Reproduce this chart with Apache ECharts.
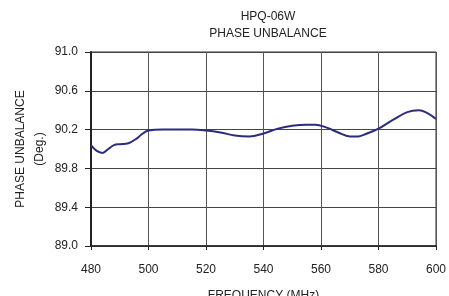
<!DOCTYPE html>
<html lang="en">
<head>
    <meta charset="UTF-8">
    <title>HPQ-06W Phase Unbalance</title>
    <script src="https://cdn.jsdelivr.net/npm/echarts/dist/echarts.min.js"></script>
    <style>
        html, body { margin: 0; height: 100%; background: #fff; }
        #main { width: 449px; height: 296px; }
    </style>
</head>
<body>
    <div id="main"></div>
    <script>
        // values
        var freqs = [480, 482, 484, 486, 488, 490, 493, 496, 498, 500, 505, 510, 515, 520, 525, 530, 535,
                     540, 545, 550, 555, 558, 562, 566, 570, 573, 576, 580, 585, 590, 594, 597, 600];
        var phase = [90.04, 89.98, 89.96, 90.00, 90.04, 90.05, 90.06, 90.11, 90.16, 90.19, 90.20, 90.20, 90.20,
                     90.19, 90.17, 90.14, 90.13, 90.16, 90.21, 90.24, 90.25, 90.25, 90.22, 90.17, 90.13, 90.13,
                     90.16, 90.21, 90.30, 90.38, 90.40, 90.37, 90.31];
        var titleLines = ['HPQ-06W', 'PHASE UNBALANCE'];

        var chart = echarts.init(document.getElementById('main'));
        var font = 'Liberation Sans, Arial, sans-serif';

        chart.setOption({
            animation: false,
            title: {
                text: titleLines.join('\n'),
                left: 263, top: 3, textAlign: 'center',
                textStyle: { fontFamily: font, fontSize: 12, fontWeight: 'normal', color: '#222', lineHeight: 17 }
            },
            grid: {
                left: 91, right: 13, top: 52, bottom: 50,
                containLabel: false, outerBoundsMode: 'none',
                show: true, borderColor: '#333', borderWidth: 1
            },
            xAxis: {
                type: 'value', min: 480, max: 600, interval: 20,
                name: 'FREQUENCY (MHz)', nameLocation: 'middle', nameGap: 44,
                nameTextStyle: { fontFamily: font, fontSize: 12, color: '#222' },
                axisLine: { show: true, lineStyle: { color: '#222', width: 1.5 } },
                axisTick: { show: true, length: 4, lineStyle: { color: '#222' } },
                axisLabel: { fontFamily: font, fontSize: 12, color: '#222', margin: 18 },
                splitLine: { show: true, lineStyle: { color: '#555', width: 1 } }
            },
            yAxis: {
                type: 'value', min: 89, max: 91, interval: 0.4,
                name: 'PHASE UNBALANCE\n(Deg.)', nameLocation: 'middle', nameGap: 42, nameRotate: 90,
                nameMoveOverlap: false,
                nameTextStyle: { fontFamily: font, fontSize: 12, color: '#222', lineHeight: 19 },
                axisLine: { show: true, lineStyle: { color: '#222', width: 2 } },
                axisTick: { show: true, inside: false, length: 6, lineStyle: { color: '#222' } },
                axisLabel: {
                    fontFamily: font, fontSize: 12, color: '#222', margin: 13,
                    formatter: function (v) { return v.toFixed(1); }
                },
                splitLine: { show: true, lineStyle: { color: '#444', width: 1 } }
            },
            series: [{
                type: 'line',
                data: freqs.map(function (f, i) { return [f, phase[i]]; }),
                smooth: 0.4,
                showSymbol: false,
                lineStyle: { color: '#2b2d7c', width: 2 }
            }]
        });
    </script>
</body>
</html>
